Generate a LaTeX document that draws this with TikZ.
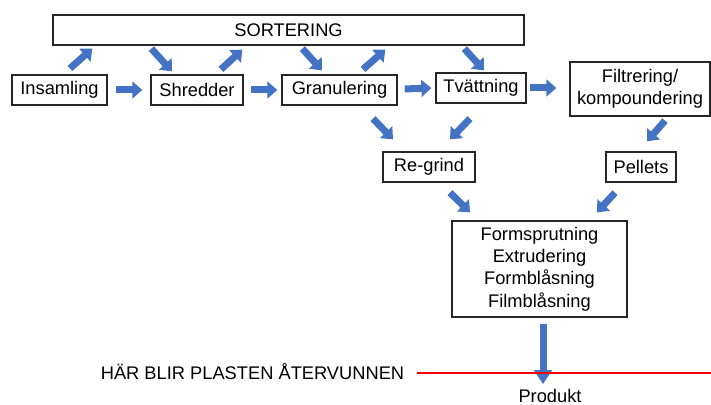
\documentclass[tikz,border=0pt]{standalone}
\usepackage{fontspec}
\setmainfont{Liberation Sans}
\usepackage{xcolor}
\usetikzlibrary{arrows.meta}
\definecolor{arrowblue}{RGB}{68,114,196}

\begin{document}
\begin{tikzpicture}[x=0.03cm, y=-0.03cm,
    every node/.style={font=\fontsize{15.6}{19}\selectfont, text=black},
    box/.style={draw=black!85, line width=1.1pt, minimum height=0.9cm, inner sep=2pt, align=center},
    blk/.style={draw=arrowblue, line width=0.21cm, -{Triangle[width=0.5cm,length=0.3cm]}},
    redline/.style={draw=red, line width=1pt}]
            \useasboundingbox (0,0) rectangle (711,405);
            % Process steps
                        \node[box, minimum width=14.13cm] (sort) at (288.5,30) {SORTERING};
                        \node[box, minimum width=2.85cm] (ins) at (59.5,90) {Insamling};
                        \node[box, minimum width=2.76cm] (shr) at (197,90) {Shredder};
                        \node[box, minimum width=3.45cm] (gran) at (339.5,90) {Granulering};
                        \node[box, minimum width=2.7cm] (tvatt) at (481,88) {Tvättning};
                        \node[box, minimum width=4.2cm, minimum height=1.62cm] (filt) at (640,89) {Filtrering/\\kompoundering};
                        \node[box, minimum width=2.76cm] (regrind) at (429,167) {Re-grind};
                        \node[box, minimum width=2.1cm] (pellets) at (641,167) {Pellets};
                        \node[box, minimum width=5.25cm, minimum height=2.88cm] (form) at (539.5,269) {Formsprutning\\Extrudering\\Formblåsning\\Filmblåsning};
                        \node (prod) at (550,396) {Produkt};
                        \node[anchor=base] (har) at (252.5,379) {HÄR BLIR PLASTEN ÅTERVUNNEN};
                        \coordinate (redR) at (711,373);
            % Flow to and from sorting
                        \draw[blk] ([shift={(10.5,-6)}]ins.north) -- ([shift={(40,3)}]sort.south west);
                        \draw[blk] ([shift={(99,3)}]sort.south west) -- ([shift={(-25,-3)}]shr.north);
                        \draw[blk] ([shift={(24,-5)}]shr.north) -- ([shift={(190,4)}]sort.south west);
                        \draw[blk] ([shift={(250,3)}]sort.south west) -- ([shift={(-17.5,-4)}]gran.north);
                        \draw[blk] ([shift={(23.5,-5)}]gran.north) -- ([shift={(333,4)}]sort.south west);
                        \draw[blk] ([shift={(412,3)}]sort.south west) -- ([shift={(3,-2)}]tvatt.north);
            % Main line
                        \draw[blk] ([shift={(8,0)}]ins.east) -- ([shift={(-8,0)}]shr.west);
                        \draw[blk] ([shift={(7,0)}]shr.east) -- ([shift={(-4,0)}]gran.west);
                        \draw[blk] ([shift={(7,-1)}]gran.east) -- ([shift={(-4,0)}]tvatt.west);
                        \draw[blk] ([shift={(3,0)}]tvatt.east) -- ([shift={(-13,-1)}]filt.west);
            % Down to the material
                        \draw[blk] ([shift={(33.5,13)}]gran.south) -- ([shift={(-36,-12)}]regrind.north);
                        \draw[blk] ([shift={(-11,15)}]tvatt.south) -- ([shift={(21,-12)}]regrind.north);
                        \draw[blk] ([shift={(25,4)}]filt.south) -- ([shift={(6,-10)}]pellets.north);
                        \draw[blk] ([shift={(21,10)}]regrind.south) -- ([shift={(-69.5,-8)}]form.north);
                        \draw[blk] ([shift={(-26,10)}]pellets.south) -- ([shift={(57.5,-8)}]form.north);
                        \draw[blk, -{Triangle[width=0.52cm,length=0.42cm]}] ([shift={(3.5,6)}]form.south) -- ([shift={(-7,-1)}]prod.north);
            % Label
                        \draw[redline] ([shift={(9,-6)}]har.base east) -- (redR);
        \end{tikzpicture}
\end{document}
